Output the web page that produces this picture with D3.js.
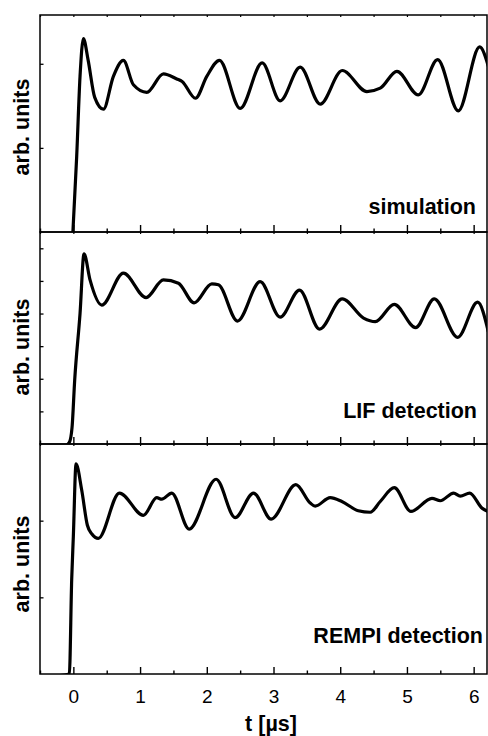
<!DOCTYPE html>
<html>
<head>
<meta charset="utf-8">
<script src="https://cdn.jsdelivr.net/npm/d3@7"></script>
<style>
  body { margin: 0; background: #fff; }
  text { font-family: "Liberation Sans", Arial, sans-serif; fill: #000; }
</style>
</head>
<body>
<div id="container"></div>
<script>
/* DATA */
// simulation trace
const simT = [-0.01, 0.05, 0.10, 0.15, 0.22, 0.32, 0.45, 0.60, 0.75, 0.90, 1.10, 1.35, 1.55, 1.63, 1.83,
  2.00, 2.19, 2.50, 2.83, 3.10, 3.40, 3.70, 4.03, 4.40, 4.60, 4.85, 5.17, 5.46, 5.77, 6.09, 6.22];
const simV = [-0.05, 0.90, 1.85, 2.30, 2.05, 1.60, 1.46, 1.85, 2.04, 1.75, 1.66, 1.88, 1.82, 1.79, 1.59,
  1.85, 2.04, 1.47, 2.01, 1.56, 1.96, 1.52, 1.92, 1.67, 1.71, 1.91, 1.63, 2.05, 1.44, 2.20, 1.97];

// LIF detection trace
const lifT = [-0.5, -0.12, -0.06, -0.02, 0.02, 0.10, 0.16, 0.25, 0.425, 0.75, 1.09, 1.35, 1.575, 1.81,
  2.075, 2.175, 2.46, 2.80, 3.10, 3.39, 3.69, 4.03, 4.35, 4.525, 4.81, 5.13, 5.41, 5.76, 6.06, 6.22];
const lifV = [-0.1, -0.05, 0.05, 0.5, 1.96, 4.00, 5.83, 5.03, 4.26, 5.24, 4.49, 5.03, 4.93, 4.33,
  4.91, 4.88, 3.77, 4.98, 3.89, 4.72, 3.52, 4.45, 3.86, 3.75, 4.28, 3.57, 4.45, 3.27, 4.35, 3.44];

// REMPI detection trace
const rempiT = [-0.5, -0.2, -0.06, -0.025, 0.00, 0.04, 0.125, 0.21, 0.275, 0.375, 0.69, 1.05, 1.25, 1.325,
  1.475, 1.735, 2.14, 2.425, 2.70, 2.965, 3.335, 3.55, 3.625, 3.85, 4.025, 4.27, 4.45, 4.60, 4.81,
  5.06, 5.375, 5.50, 5.70, 5.80, 5.94, 6.13, 6.22];
const rempiV = [-0.02, -0.02, 0.0, 1.23, 1.80, 2.74, 2.40, 1.94, 1.83, 1.77, 2.36, 2.07, 2.30, 2.28,
  2.36, 1.89, 2.54, 2.04, 2.36, 2.02, 2.47, 2.23, 2.19, 2.30, 2.25, 2.13, 2.11, 2.25, 2.43,
  2.12, 2.29, 2.26, 2.36, 2.32, 2.36, 2.16, 2.12];

const xMajor = [0, 1, 2, 3, 4, 5, 6];
const xMinor = [-0.5, 0.5, 1.5, 2.5, 3.5, 4.5, 5.5];
const labels = ["simulation", "LIF detection", "REMPI detection"];
const yLabel = "arb. units";
const xLabel = "t [\u00b5s]";

/* LAYOUT */
const width = 488, height = 736;
const left = 40, right = 487;

const panels = [
  { name: labels[0], t: simT, v: simV, top: 15, bottom: 232, ymax: 2.58, yticks: [1, 2], tx: 476, ty: 214, ly: 127 },
  { name: labels[1], t: lifT, v: lifV, top: 232, bottom: 444, ymax: 6.5, yticks: [1, 2, 3, 4, 5, 6], tx: 477, ty: 418, ly: 347 },
  { name: labels[2], t: rempiT, v: rempiV, top: 444, bottom: 674, ymax: 3, yticks: [1, 2], tx: 483, ty: 643, ly: 564 }
];

const svg = d3.select("#container")
  .append("svg")
  .attr("width", width)
  .attr("height", height);

const xScale = d3.scaleLinear()
  .domain([-0.5, 6.2])
  .range([left, right]);

panels.forEach((p, i) => {
  const yScale = d3.scaleLinear()
    .domain([0, p.ymax])
    .range([p.bottom, p.top]);

  const g = svg.append("g");

  // clip for the trace
  svg.append("clipPath").attr("id", "clip" + i)
    .append("rect")
    .attr("x", left).attr("y", p.top)
    .attr("width", right - left).attr("height", p.bottom - p.top);

  const line = d3.line()
    .x(d => xScale(d[0]))
    .y(d => yScale(d[1]))
    .curve(d3.curveMonotoneX);

  g.append("path")
    .datum(d3.zip(p.t, p.v))
    .attr("clip-path", `url(#clip${i})`)
    .attr("fill", "none")
    .attr("stroke", "#000")
    .attr("stroke-width", 3.2)
    .attr("stroke-linejoin", "round")
    .attr("d", line);

  // bottom ticks (inward)
  const isLast = i === panels.length - 1;
  const bMajor = d3.axisBottom(xScale).tickValues(xMajor).tickSize(-7).tickPadding(15.5)
    .tickFormat(isLast ? d3.format("d") : "");
  const bMinor = d3.axisBottom(xScale).tickValues(xMinor).tickSize(-3.5).tickFormat("");
  [bMajor, bMinor].forEach(ax => {
    g.append("g")
      .attr("transform", `translate(0,${p.bottom})`)
      .call(ax)
      .call(s => s.select(".domain").remove())
      .call(s => s.selectAll("line").attr("stroke-width", 1.4))
      .call(s => s.selectAll("text").attr("font-size", 19).style("font-family", '"Liberation Sans", Arial, sans-serif'));
  });

  // top ticks (short)
  g.append("g")
    .attr("transform", `translate(0,${p.top})`)
    .call(d3.axisTop(xScale).tickValues(xMajor.concat(xMinor)).tickSize(-2).tickFormat(""))
    .call(s => s.select(".domain").remove())
    .call(s => s.selectAll("line").attr("stroke-width", 1.2));

  // left ticks
  g.append("g")
    .attr("transform", `translate(${left},0)`)
    .call(d3.axisLeft(yScale).tickValues(p.yticks).tickSize(-3.5).tickFormat(""))
    .call(s => s.select(".domain").remove())
    .call(s => s.selectAll("line").attr("stroke-width", 1.3));

  // frame
  g.append("rect")
    .attr("x", left).attr("y", p.top)
    .attr("width", right - left).attr("height", p.bottom - p.top)
    .attr("fill", "none")
    .attr("stroke", "#000")
    .attr("stroke-width", 1.5);

  // panel label
  g.append("text")
    .attr("x", p.tx).attr("y", p.ty)
    .attr("text-anchor", "end")
    .attr("font-size", 21.5)
    .attr("font-weight", "bold")
    .text(p.name);

  // y label
  g.append("text")
    .attr("transform", `translate(28.5,${p.ly}) rotate(-90)`)
    .attr("text-anchor", "middle")
    .attr("font-size", 21.5)
    .attr("font-weight", "bold")
    .text(yLabel);
});

svg.append("text")
  .attr("x", 271).attr("y", 731)
  .attr("text-anchor", "middle")
  .attr("font-size", 21.5)
  .attr("font-weight", "bold")
  .text(xLabel);
</script>
</body>
</html>
